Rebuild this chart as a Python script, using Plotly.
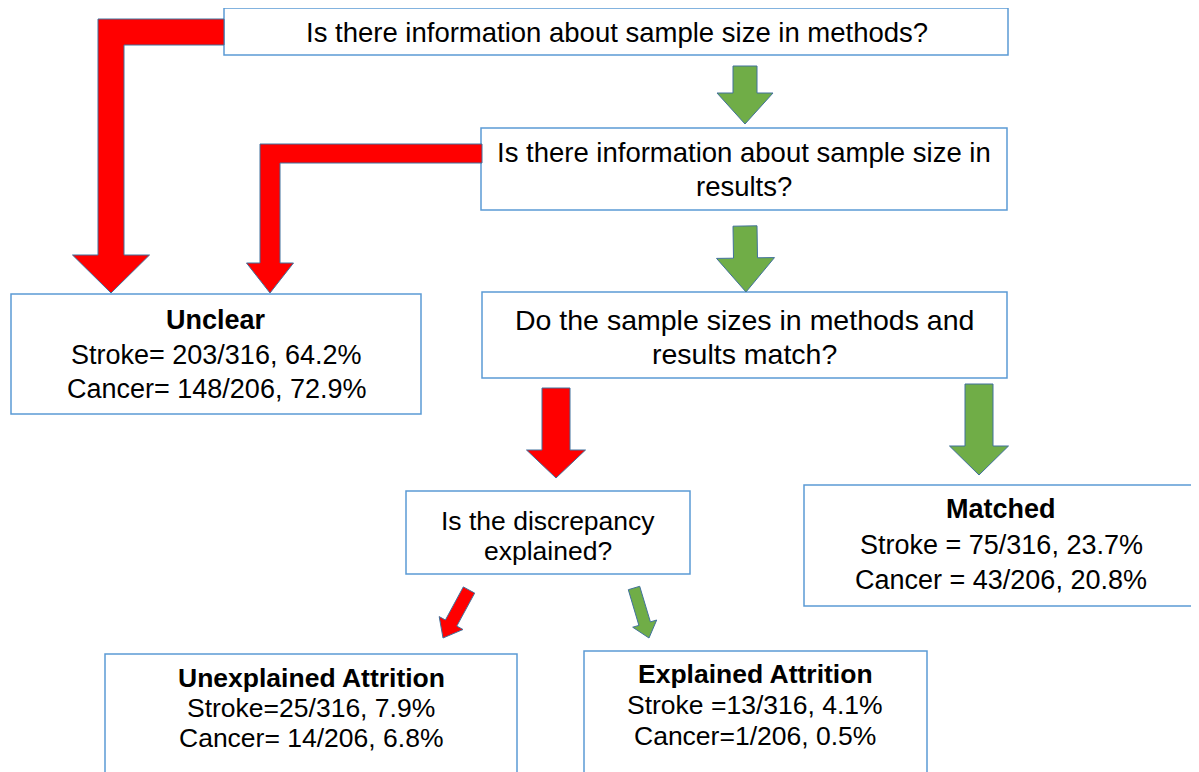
import math
import plotly.graph_objects as go

# ---------------- data ----------------
questions = [
    "Is there information about sample size in methods?",
    "Is there information about sample size in<br>results?",
    "Do the sample sizes in methods and<br>results match?",
    "Is the discrepancy<br>explained?",
]
outcomes = ["Unclear", "Matched", "Unexplained Attrition", "Explained Attrition"]
stroke_n = [203, 75, 25, 13]
stroke_total = 316
stroke_pct = ["64.2", "23.7", "7.9", "4.1"]
cancer_n = [148, 43, 14, 1]
cancer_total = 206
cancer_pct = ["72.9", "20.8", "6.8", "0.5"]
stroke_sep = ["= ", " = ", "=", " ="]
cancer_sep = ["= ", " = ", "= ", "="]

# ---------------- layout helpers ----------------
W, H = 1199, 772
PAD = 8  # default page body margin; the axis ranges compensate for it
FONT = "Liberation Sans"
BOX_LINE = "#5B9BD5"
ARROW_LINE = "#41719C"
RED = "#FF0000"
GREEN = "#70AD47"

fig = go.Figure()
shapes = []
annotations = []


def box(x0, y0, x1, y1):
    shapes.append(dict(type="rect", x0=x0, y0=y0, x1=x1, y1=y1,
                       line=dict(color=BOX_LINE, width=1.5), fillcolor="white",
                       layer="below"))


def text(x, y, s, size, bold=False):
    annotations.append(dict(x=x, y=y, text=("<b>%s</b>" % s) if bold else s,
                            showarrow=False, xanchor="center", yanchor="middle",
                            font=dict(family=FONT, size=size, color="black")))


def poly(pts, fill):
    d = "M " + " L ".join("%.1f,%.1f" % p for p in pts) + " Z"
    shapes.append(dict(type="path", path=d, fillcolor=fill,
                       line=dict(color=ARROW_LINE, width=1)))


def arrow(tail, tip, shaft_w, head_w, head_len, fill):
    dx, dy = tip[0] - tail[0], tip[1] - tail[1]
    L = math.hypot(dx, dy)
    ux, uy = dx / L, dy / L
    px, py = -uy, ux
    bx, by = tip[0] - ux * head_len, tip[1] - uy * head_len
    s, h = shaft_w / 2, head_w / 2
    pts = [
        (tail[0] + px * s, tail[1] + py * s),
        (bx + px * s, by + py * s),
        (bx + px * h, by + py * h),
        tip,
        (bx - px * h, by - py * h),
        (bx - px * s, by - py * s),
        (tail[0] - px * s, tail[1] - py * s),
    ]
    poly(pts, fill)


def elbow(start_x, y_top, y_bot, x_out, x_in, y_base, head_half, tip_y, fill):
    cx = (x_out + x_in) / 2
    pts = [(start_x, y_top), (x_out, y_top), (x_out, y_base),
           (cx - head_half, y_base), (cx, tip_y), (cx + head_half, y_base),
           (x_in, y_base), (x_in, y_bot), (start_x, y_bot)]
    poly(pts, fill)


# ---------------- arrows ----------------
elbow(224, 19, 45, 98, 124, 255, 38.5, 293, RED)
elbow(482, 144, 163, 260, 280, 263, 23.5, 293, RED)
arrow((745, 66), (745, 124), 24, 56, 31, GREEN)
arrow((745, 226), (746, 292), 24, 58, 34, GREEN)
arrow((556, 388), (556, 478), 28, 59, 28, RED)
arrow((979, 384), (979, 475), 28, 59, 29, GREEN)
arrow((469, 590), (443, 638), 13, 27, 17, RED)
arrow((634, 588), (649, 638), 12, 25, 15, GREEN)

# ---------------- boxes ----------------
box(224, 8, 1008, 55)
box(481, 128, 1007, 210)
box(482, 292, 1007, 378)
box(406, 491, 690, 574)
box(11, 294, 421, 414)
box(804, 485, 1198, 606)
box(105, 654, 517, 780)
box(584, 651, 927, 780)

# ---------------- question texts ----------------
q_pos = [(617, 32, None, 27.5), (744, 152, 186, 27.5), (744, 320, 354, 28.5), (548, 521, 551, 26.5)]
for q, (x, y1, y2, fs) in zip(questions, q_pos):
    lines = q.split("<br>")
    text(x, y1, lines[0], fs)
    if len(lines) > 1:
        text(x, y2, lines[1], fs)

# ---------------- outcome texts ----------------
o_pos = [(216, (320, 355, 389), 27), (1001, (509, 545, 580), 27),
         (311, (678, 708, 738), 26.5), (755, (674, 705, 736), 26.5)]
for i, (x, ys, fs) in enumerate(o_pos):
    text(x, ys[0], outcomes[i], fs, bold=True)
    text(x, ys[1], "Stroke%s%d/%d, %s%%" % (stroke_sep[i], stroke_n[i], stroke_total, stroke_pct[i]), fs)
    text(x, ys[2], "Cancer%s%d/%d, %s%%" % (cancer_sep[i], cancer_n[i], cancer_total, cancer_pct[i]), fs)

fig.update_layout(
    width=W - PAD, height=H - PAD, margin=dict(l=0, r=0, t=0, b=0),
    paper_bgcolor="white", plot_bgcolor="white",
    xaxis=dict(range=[PAD, W], visible=False, fixedrange=True),
    yaxis=dict(range=[H, PAD], visible=False, fixedrange=True),
    shapes=shapes, annotations=annotations, showlegend=False,
)
fig.write_html("out.html")
